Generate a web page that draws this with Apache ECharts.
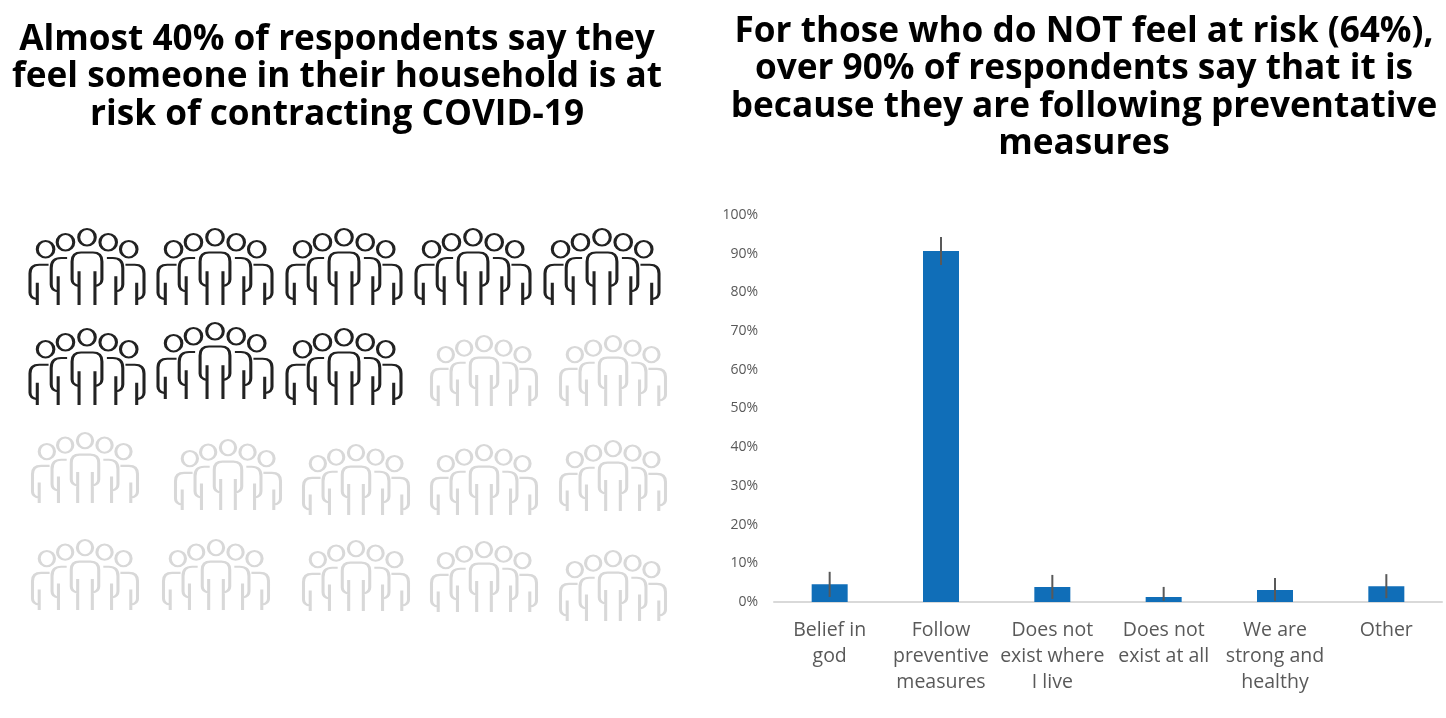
<!DOCTYPE html>
<html>
<head>
<meta charset="utf-8">
<style>
  html, body { margin: 0; background: #fff; }
  #chart { width: 1446px; height: 718px; }
</style>
<script src="https://cdn.jsdelivr.net/npm/echarts@6/dist/echarts.min.js"></script>
</head>
<body>
<div id="chart"></div>
<script>
const categories = ["Belief in\ngod", "Follow\npreventive\nmeasures", "Does not\nexist where\nI live", "Does not\nexist at all", "We are\nstrong and\nhealthy", "Other"];
const shares = [4.6, 90.7, 3.9, 1.3, 3.1, 4.1];
const errorLow = [1.3, 87.1, 0.8, 0.3, 0.3, 1.0];
const errorHigh = [7.8, 94.3, 7.0, 3.9, 6.2, 7.2];
const yTicks = [0, 10, 20, 30, 40, 50, 60, 70, 80, 90, 100];

// pictogram: first 8 groups are the "at risk" ones
const darkIconX = [87, 215, 344, 473, 602, 87, 215, 344];
const darkIconY = [267, 267, 267, 267, 267, 367, 361, 367];
const lightIconX = [484, 613, 85, 228, 356, 484, 613, 85, 216, 356, 484, 613];
const lightIconY = [371, 371, 468, 475, 480, 480, 476, 575, 575, 576, 577, 586];

const peoplePath = "path://" +
  "M50 88a25 25 0 1 0 50 0a25 25 0 1 0 -50 0" +
  "M110 67a25 25 0 1 0 50 0a25 25 0 1 0 -50 0" +
  "M175 52a25 25 0 1 0 50 0a25 25 0 1 0 -50 0" +
  "M239 67a25 25 0 1 0 50 0a25 25 0 1 0 -50 0" +
  "M301 88a25 25 0 1 0 50 0a25 25 0 1 0 -50 0" +
  // middle person
  "M176 257L176 155M224 257L224 155" +
  "M176 200Q155 196 155 180L155 125Q155 98 182 98L218 98Q245 98 245 125L245 180Q245 196 224 200" +
  // inner pair
  "M140 115L122 115Q92 115 92 145L92 195Q92 212 112 216M113 257L113 170" +
  "M260 115L278 115Q308 115 308 145L308 195Q308 212 288 216M287 257L287 170" +
  // outer pair
  "M84 135L56 135Q28 135 28 162L28 220Q28 236 50 240M50 257L50 190" +
  "M316 135L344 135Q372 135 372 162L372 220Q372 236 350 240M350 257L350 190";

const chart = echarts.init(document.getElementById("chart"), null, { renderer: "canvas" });

const titleStyle = {
  fontFamily: "Open Sans",
  fontWeight: 700,
  fontSize: 35.2,
  lineHeight: 37.5,
  color: "#000"
};

const option = {
  animation: false,
  backgroundColor: "#fff",
  title: [
    {
      text: "Almost 40% of respondents say they\nfeel someone in their household is at\nrisk of contracting COVID-19",
      left: 337, top: 21, textAlign: "center", padding: 0,
      textStyle: titleStyle
    },
    {
      text: "For those who do NOT feel at risk (64%),\nover 90% of respondents say that it is\nbecause they are following preventative\nmeasures",
      left: 1084, top: 13, textAlign: "center", padding: 0,
      textStyle: titleStyle
    }
  ],
  grid: [
    { left: 774, top: 215, width: 668, height: 387 },
    { left: 0, top: 0, width: 1446, height: 718 }
  ],
  xAxis: [
    {
      type: "category",
      gridIndex: 0,
      data: categories,
      axisLine: { lineStyle: { color: "#d9d9d9", width: 2 } },
      axisTick: { show: false },
      axisLabel: {
        interval: 0, margin: 15,
        color: "#595959", fontFamily: "Open Sans", fontSize: 19.5, lineHeight: 26
      }
    },
    { type: "value", gridIndex: 1, min: 0, max: 1446, show: false }
  ],
  yAxis: [
    {
      type: "value",
      gridIndex: 0,
      min: 0, max: 100, interval: 10,
      axisLine: { show: false },
      axisTick: { show: false },
      splitLine: { show: false },
      axisLabel: {
        margin: 16,
        formatter: (v) => (yTicks.includes(v) ? v + "%" : ""),
        color: "#595959", fontFamily: "Open Sans", fontSize: 14
      }
    },
    { type: "value", gridIndex: 1, min: 0, max: 718, inverse: true, show: false }
  ],
  series: [
    {
      type: "bar",
      data: shares,
      barWidth: 36,
      itemStyle: { color: "#106eb8" },
      silent: true
    },
    {
      // error bars
      type: "custom",
      data: errorLow.map((low, i) => [i, low, errorHigh[i]]),
      encode: { x: 0, y: [1, 2] },
      z: 5,
      silent: true,
      renderItem: (params, api) => {
        const a = api.coord([api.value(0), api.value(1)]);
        const b = api.coord([api.value(0), api.value(2)]);
        return {
          type: "line",
          shape: { x1: a[0], y1: a[1], x2: b[0], y2: b[1] },
          style: { stroke: "#595959", lineWidth: 2 }
        };
      }
    },
    {
      type: "scatter",
      xAxisIndex: 1, yAxisIndex: 1,
      data: darkIconX.map((x, i) => [x, darkIconY[i]]),
      symbol: peoplePath,
      symbolSize: [114, 76],
      itemStyle: { color: "transparent", borderColor: "#222", borderWidth: 2.5, opacity: 1 },
      silent: true
    },
    {
      type: "scatter",
      xAxisIndex: 1, yAxisIndex: 1,
      data: lightIconX.map((x, i) => [x, lightIconY[i]]),
      symbol: peoplePath,
      symbolSize: [105, 70],
      itemStyle: { color: "transparent", borderColor: "#d8d8d8", borderWidth: 2.5, opacity: 1 },
      silent: true
    }
  ]
};

chart.setOption(option);
</script>
</body>
</html>
